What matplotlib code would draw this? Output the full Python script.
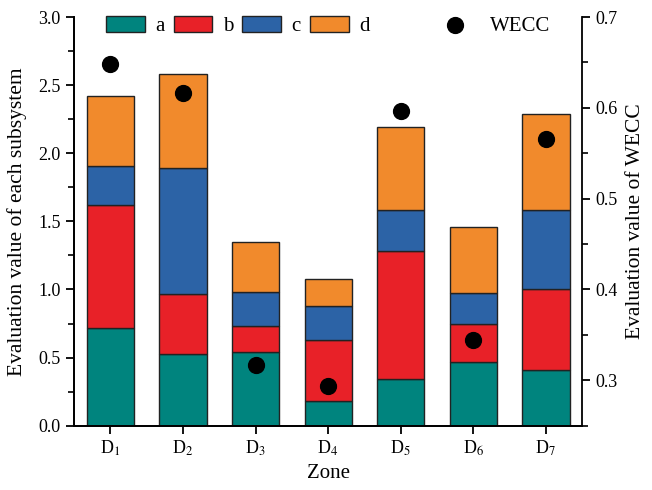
import numpy as np
import matplotlib
matplotlib.use("Agg")
import matplotlib.pyplot as plt
from matplotlib.ticker import MultipleLocator

zones = ["D$_{1}$", "D$_{2}$", "D$_{3}$", "D$_{4}$", "D$_{5}$", "D$_{6}$", "D$_{7}$"]
a_vals = [0.72, 0.53, 0.54, 0.18, 0.34, 0.47, 0.41]
b_vals = [0.90, 0.435, 0.19, 0.45, 0.94, 0.28, 0.59]
c_vals = [0.29, 0.93, 0.25, 0.25, 0.30, 0.225, 0.585]
d_vals = [0.51, 0.69, 0.365, 0.195, 0.61, 0.48, 0.70]
wecc = [0.648, 0.616, 0.317, 0.294, 0.597, 0.344, 0.566]

series = [("a", a_vals, "#00847E"), ("b", b_vals, "#E82128"),
          ("c", c_vals, "#2C63A6"), ("d", d_vals, "#F18A2C")]

plt.rcParams["font.family"] = "Liberation Serif"
plt.rcParams["mathtext.fontset"] = "stix"

fig = plt.figure(figsize=(6.52, 4.9), dpi=100)
ax = fig.add_axes([0.1135, 0.1312, 0.7795, 0.8341])
ax2 = ax.twinx()

x = np.arange(1, len(zones) + 1)
bottom = np.zeros(len(zones))
for name, vals, col in series:
    ax.bar(x, vals, 0.65, bottom=bottom, color=col, edgecolor="#222222",
           linewidth=1.0, label=name, zorder=2)
    bottom += np.array(vals)

ax2.scatter(x, wecc, s=130, color="black", zorder=5, label="WECC")

ax.set_xlim(0.5, 7.5)
ax.set_ylim(0, 3.0)
ax2.set_ylim(0.25, 0.7)

ax.set_xticks(x)
ax.set_xticklabels(zones)
ax.yaxis.set_major_locator(MultipleLocator(0.5))
ax.yaxis.set_minor_locator(MultipleLocator(0.25))
ax2.yaxis.set_major_locator(MultipleLocator(0.1))
ax2.yaxis.set_minor_locator(MultipleLocator(0.05))

for a_ in (ax, ax2):
    a_.spines["top"].set_visible(False)
    for s in a_.spines.values():
        s.set_linewidth(1.3)
    a_.tick_params(direction="out", length=6, width=1.3, labelsize=13)
    a_.tick_params(which="minor", direction="out", length=4, width=1.2)
ax.spines["right"].set_visible(False)

ax.set_xlabel("Zone", fontsize=15, labelpad=4)
ax.set_ylabel("Evaluation value of each subsystem", fontsize=15.5, labelpad=8)
ax2.set_ylabel("Evaluation value of WECC", fontsize=15.5, labelpad=6)

leg1 = ax.legend(loc="center left", bbox_to_anchor=(0.063, 0.978), ncol=4,
                 frameon=False, fontsize=15, handlelength=1.85,
                 handleheight=0.85, handletextpad=0.5, columnspacing=0.45,
                 borderaxespad=0, borderpad=0)
leg2 = ax2.legend(loc="center left", bbox_to_anchor=(0.729, 0.978),
                  frameon=False, fontsize=15, handlelength=1.0,
                  handletextpad=1.2, borderaxespad=0, borderpad=0)

fig.savefig("out.png", dpi=100)
